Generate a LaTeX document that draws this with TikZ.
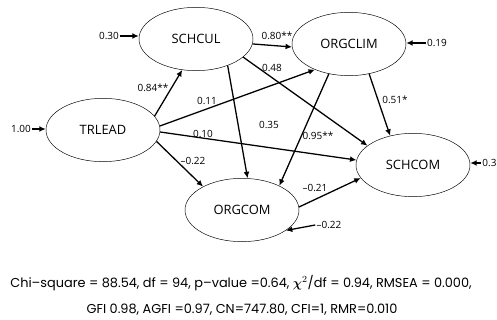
\documentclass[tikz,border=0pt]{standalone}
\usepackage{amsmath}
\usepackage{fontspec}
\setmainfont{Open Sans}
\newfontfamily\notefont{Poppins}
\usetikzlibrary{shapes.geometric,arrows.meta}

\tikzset{
  latent/.style={draw, ellipse, thin, minimum width=3.42cm, minimum height=1.9cm,
    inner sep=0pt, font=\fontsize{11}{13}\selectfont},
  effect/.style={->, line width=1.1pt},
  coef/.style={inner sep=1pt, font=\fontsize{8.5}{10}\selectfont},
  fitline/.style={inner sep=0pt, font=\notefont\fontsize{11}{13}\selectfont},
}

\begin{document}
\begin{tikzpicture}[x=0.03cm, y=-0.03cm, >={Latex[length=5.5pt,width=5pt]}]
        \useasboundingbox (0,0) rectangle (497,320);
        % latent variables
        \node[latent] (schcul) at (196,39) {SCHCUL};
        \node[latent] (orgclim) at (349,44) {ORGCLIM};
        \node[latent] (trlead) at (103,130) {TRLEAD};
        \node[latent] (schcom) at (413,165) {SCHCOM};
        \node[latent] (orgcom) at (242,210) {ORGCOM};
        % error terms
        \node[coef] (e_schcul) at (109,36) {0.30};
        \node[coef] (e_trlead) at (21,129) {1.00};
        \node[coef] (e_orgclim) at (437,43) {0.19};
        \node[coef, anchor=west] (e_schcom) at (481,163) {0.3};
        \node[coef] (e_orgcom) at (329,225) {–0.22};
        \draw[effect] (e_schcul.east) -- (e_schcul.east -| schcul.west);
        \draw[effect] (e_trlead.east) -- (e_trlead.east -| trlead.west);
        \draw[effect] (e_orgclim.west) -- (e_orgclim.west -| orgclim.east);
        \draw[effect] (e_schcom.west) -- (e_schcom.west -| schcom.east);
        \draw[effect] (e_orgcom.west) -- (orgcom.-25);
        % paths
        \draw[effect] (trlead.15) -- (schcul.246);
        \draw[effect] (trlead.4) -- (orgclim.217);
        \draw[effect] (trlead.-2) -- (schcom.175);
        \draw[effect] (trlead.-12) -- (orgcom.149);
        \draw[effect] (schcul.-5) -- (orgclim.183);
        \draw[effect] (schcul.-21) -- (schcom.157);
        \draw[effect] (schcul.-40) -- (orgcom.80);
        \draw[effect] (orgclim.236) -- (orgcom.33);
        \draw[effect] (orgclim.-56) -- (schcom.128);
        \draw[effect] (orgcom.3) -- (schcom.194);
        % coefficients
        \node[coef] (c_84) at (153,88) {0.84**};
        \node[coef] (c_80) at (277,36) {0.80**};
        \node[coef] (c_48) at (272,68) {0.48};
        \node[coef] (c_11) at (207,101) {0.11};
        \node[coef] (c_35) at (269,125) {0.35};
        \node[coef] (c_10) at (203,134) {0.10};
        \node[coef] (c_22) at (193,161) {–0.22};
        \node[coef] (c_95) at (318,136) {0.95**};
        \node[coef] (c_51) at (395,100) {0.51*};
        \node[coef] (c_21) at (315,188) {–0.21};
        % fit indices
        \node[fitline] (fit_a) at (241,283) {Chi–square = 88.54, df = 94, p–value =0.64, $\boldsymbol{\chi}^2$/df = 0.94, RMSEA = 0.000,};
        \node[fitline] (fit_b) at (242,310) {GFI 0.98, AGFI =0.97, CN=747.80, CFI=1, RMR=0.010};
\end{tikzpicture}
\end{document}
